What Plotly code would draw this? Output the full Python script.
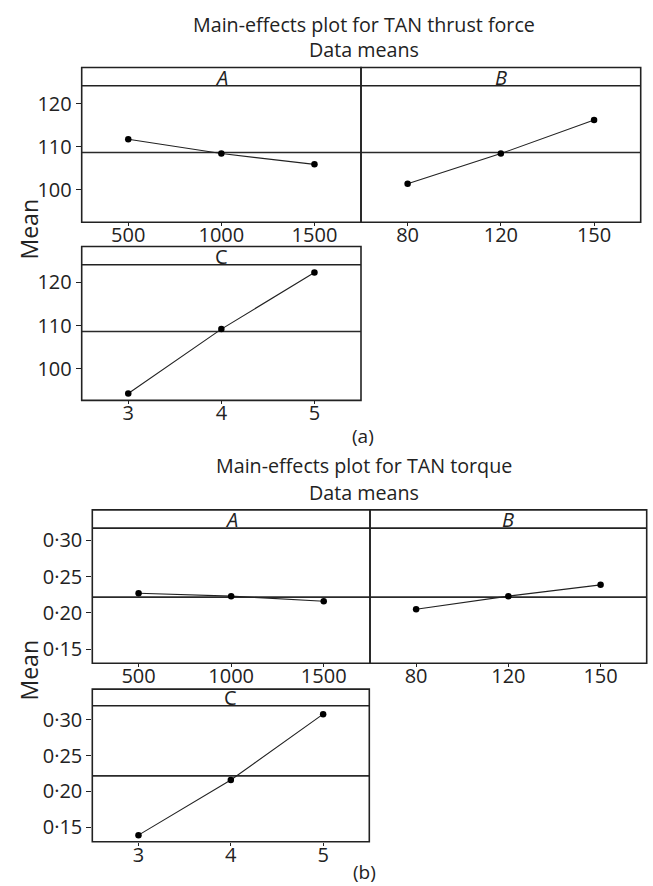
import plotly.graph_objects as go
import numpy as np

# ---------------- data ----------------
A_levels = ["500", "1000", "1500"]
B_levels = ["80", "120", "150"]
C_levels = ["3", "4", "5"]

thrust_A = [111.7, 108.4, 105.9]
thrust_B = [101.4, 108.4, 116.2]
thrust_C = [94.3, 109.2, 122.3]

torque_A = [0.227, 0.223, 0.216]
torque_B = [0.205, 0.223, 0.2385]
torque_C = [0.139, 0.216, 0.308]

thrust_yticks = [100, 110, 120]
thrust_yticklabels = ["100", "110", "120"]
torque_yticks = [0.15, 0.20, 0.25, 0.30]
torque_yticklabels = ["0·15", "0·20", "0·25", "0·30"]

title_a = "Main-effects plot for TAN thrust force"
title_b = "Main-effects plot for TAN torque"
subtitle = "Data means"

# ---------------- layout helpers ----------------
W, H = 653, 886
FONT = "Open Sans"
INK = "#222222"


def px(x):
    return x / W


def py(y):
    return 1 - y / H


fig = go.Figure()
shapes = []
annotations = []

thrust_mean = float(np.mean(thrust_A + thrust_B + thrust_C))
torque_mean = float(np.mean(torque_A + torque_B + torque_C))

panels = [
    # levels, values, (x0, x1, top, hdr, bottom), yrange, ticks, labels, showy, label, mean
    (A_levels, thrust_A, (81.7, 361, 65.7, 84, 220.7), [92.5, 124.1], thrust_yticks, thrust_yticklabels, True, "<i>A</i>", thrust_mean),
    (B_levels, thrust_B, (361, 640.7, 65.7, 84, 220.7), [92.5, 124.1], thrust_yticks, thrust_yticklabels, False, "<i>B</i>", thrust_mean),
    (C_levels, thrust_C, (81.7, 361, 245, 263.3, 399.3), [92.7, 124.1], thrust_yticks, thrust_yticklabels, True, "C", thrust_mean),
    (A_levels, torque_A, (92.3, 370, 509, 527.3, 662.7), [0.1307, 0.3166], torque_yticks, torque_yticklabels, True, "<i>A</i>", torque_mean),
    (B_levels, torque_B, (370, 646.7, 509, 527.3, 662.7), [0.1307, 0.3166], torque_yticks, torque_yticklabels, False, "<i>B</i>", torque_mean),
    (C_levels, torque_C, (92.3, 369.3, 688.7, 705.3, 841.7), [0.1297, 0.3198], torque_yticks, torque_yticklabels, True, "C", torque_mean),
]

for i, (levels, vals, (x0, x1, top, hdr, bot), yr, tv, tt, showy, lab, mean) in enumerate(panels, start=1):
    xa = "x" if i == 1 else f"x{i}"
    ya = "y" if i == 1 else f"y{i}"
    fig.add_trace(go.Scatter(
        x=levels, y=vals, xaxis=xa, yaxis=ya, mode="lines+markers",
        line=dict(color=INK, width=1.1),
        marker=dict(color="black", size=6.5),
        showlegend=False, hoverinfo="skip",
    ))
    xkey = "xaxis" if i == 1 else f"xaxis{i}"
    ykey = "yaxis" if i == 1 else f"yaxis{i}"
    fig.update_layout(**{
        xkey: dict(domain=[px(x0), px(x1)], anchor=ya, type="category",
                   range=[-0.5, 2.5], showgrid=False, zeroline=False, showline=False,
                   ticks="outside", ticklen=3, tickcolor=INK, tickwidth=1,
                   ticklabelstandoff=-8,
                   tickfont=dict(family=FONT, size=20, color=INK), fixedrange=True),
        ykey: dict(domain=[py(bot), py(hdr)], anchor=xa, range=yr,
                   showgrid=False, zeroline=False, showline=False,
                   tickvals=tv if showy else [], ticktext=tt if showy else [],
                   ticks="outside" if showy else "", ticklen=5, tickcolor=INK, tickwidth=1,
                   showticklabels=showy,
                   tickfont=dict(family=FONT, size=20, color=INK), fixedrange=True),
    })
    # mean reference line
    shapes.append(dict(type="line", xref=f"{xa} domain", yref=ya, x0=0, x1=1, y0=mean, y1=mean,
                       line=dict(color="#2a2a2a", width=1.7), layer="below"))
    # panel box + header strip
    shapes.append(dict(type="rect", xref="paper", yref="paper", x0=px(x0), x1=px(x1),
                       y0=py(bot), y1=py(top), line=dict(color=INK, width=1.6)))
    shapes.append(dict(type="line", xref="paper", yref="paper", x0=px(x0), x1=px(x1),
                       y0=py(hdr), y1=py(hdr), line=dict(color=INK, width=1.6)))
    annotations.append(dict(text=lab, xref="paper", yref="paper", x=px((x0 + x1) / 2),
                            y=py(hdr - 8.5), yanchor="middle", xanchor="center", showarrow=False,
                            font=dict(family=FONT, size=20, color=INK)))


def txt(s, x, y, size=19.7, angle=0):
    annotations.append(dict(text=s, xref="paper", yref="paper", x=px(x), y=py(y),
                            xanchor="center", yanchor="middle", showarrow=False, textangle=angle,
                            font=dict(family=FONT, size=size, color=INK)))


txt(title_a, 364, 22.7)
txt(subtitle, 364, 48)
txt("Mean", 29, 228, 23, -90)
txt("(a)", 363, 435, 19)
txt(title_b, 364, 465)
txt(subtitle, 364, 491.7)
txt("Mean", 29, 670, 23, -90)
txt("(b)", 364, 872, 19)

fig.update_layout(
    width=W, height=H, margin=dict(l=0, r=0, t=0, b=0),
    paper_bgcolor="white", plot_bgcolor="white",
    shapes=shapes, annotations=annotations, showlegend=False,
    font=dict(family=FONT, color=INK),
)

fig.write_html("out.html", config={"displayModeBar": False})
